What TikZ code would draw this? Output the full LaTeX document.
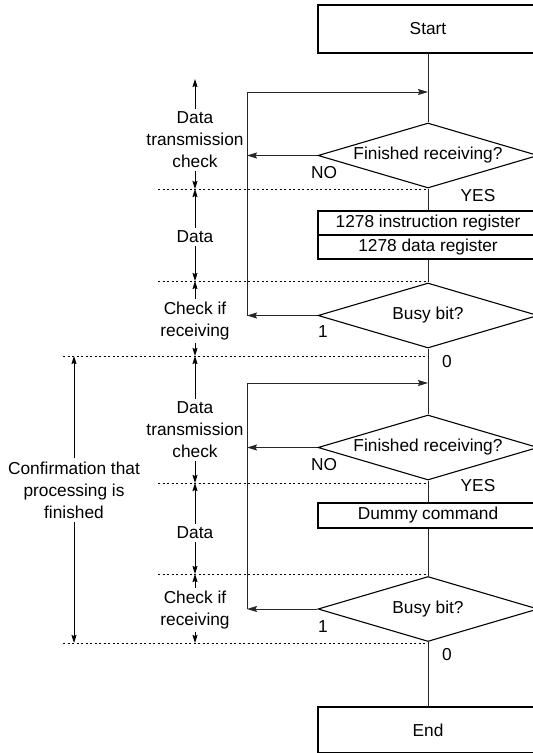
\documentclass[tikz,border=0pt]{standalone}
\usepackage{fontspec}
\setmainfont{Liberation Sans}
\usetikzlibrary{shapes.geometric,arrows.meta}
\tikzset{
  box/.style={draw,line width=1.1pt,minimum width=220pt,inner sep=0pt},
  dia/.style={draw,diamond,line width=1.1pt,minimum width=220pt,minimum height=65pt,shape aspect=3.38,inner sep=0pt},
  flow/.style={line width=0.9pt,draw=black!85},
  flowarr/.style={flow,-{Stealth[length=10pt,width=6pt,inset=1.5pt]}},
  lbl/.style={inner sep=0pt},
  dimtext/.style={align=center,inner sep=3pt},
  dimarr/.style={line width=0.9pt,-{Stealth[length=8pt,width=5pt,inset=1pt]}},
  dotline/.style={line width=0.7pt,dash pattern=on 2pt off 2.5pt},
}
\begin{document}
\begin{tikzpicture}[x=1pt,y=-1pt,font=\fontsize{17.3}{22}\selectfont]
\useasboundingbox (0,0) rectangle (533,753);
\clip (0,0) rectangle (533,753);
% main flow nodes
\node[box,minimum height=48pt] (start) at (428,29) {Start};
\node[dia] (d1) at (428,155.5) {Finished receiving?};
\node[box,minimum height=24pt] (r1) at (428,223) {1278 instruction register};
\node[box,minimum height=24pt] (r2) at (428,247) {1278 data register};
\node[dia] (d2) at (428,315.5) {Busy bit?};
\node[dia] (d3) at (428,447.5) {Finished receiving?};
\node[box,minimum height=25pt] (dummy) at (428,515.5) {Dummy command};
\node[dia] (d4) at (428,609) {Busy bit?};
\node[box,minimum height=46pt] (end) at (428,730) {End};
% labels
\node[lbl] (no1) at (324,173) {NO};
\node[lbl] (yes1) at (478,196) {YES};
\node[lbl] (one1) at (323,332) {1};
\node[lbl] (zero1) at (447,362) {0};
\node[lbl] (no2) at (324,465) {NO};
\node[lbl] (yes2) at (478,486) {YES};
\node[lbl] (one2) at (323,627) {1};
\node[lbl] (zero2) at (447,655) {0};
% loop coordinates
\coordinate (l1top) at (247,92);
\coordinate (l1in) at (428,92);
\coordinate (n1) at (247,155.5);
\coordinate (b1) at (247,315.5);
\coordinate (l2top) at (247,383);
\coordinate (l2in) at (428,383);
\coordinate (n2) at (247,447.5);
\coordinate (b2) at (247,609);
% main connectors
\draw[flow] (start) -- (d1);
\draw[flow] (d1) -- (r1);
\draw[flow] (r2) -- (d2);
\draw[flow] (d2) -- (d3);
\draw[flow] (d3) -- (dummy);
\draw[flow] (dummy) -- (d4);
\draw[flow] (d4) -- (end);
% loops
\draw[flowarr] (d1.west) -- (n1);
\draw[flowarr] (d2.west) -- (b1);
\draw[flowarr] (b1) -- (l1top) -- (l1in);
\draw[flowarr] (d3.west) -- (n2);
\draw[flowarr] (d4.west) -- (b2);
\draw[flowarr] (b2) -- (l2top) -- (l2in);
% dotted lines
\coordinate (p1) at (158,189); \coordinate (q1) at (428,189);
\coordinate (p2) at (158,281); \coordinate (q2) at (428,281);
\coordinate (p3) at (63,356);  \coordinate (q3) at (428,356);
\coordinate (p4) at (158,483); \coordinate (q4) at (428,483);
\coordinate (p5) at (158,574); \coordinate (q5) at (428,574);
\coordinate (p6) at (63,643);  \coordinate (q6) at (428,643);
\draw[dotline] (p1) -- (q1);
\draw[dotline] (p2) -- (q2);
\draw[dotline] (p3) -- (q3);
\draw[dotline] (p4) -- (q4);
\draw[dotline] (p5) -- (q5);
\draw[dotline] (p6) -- (q6);
% dimension labels
\node[dimtext] (t1) at (195,140) {Data\\transmission\\check};
\node[dimtext] (t2) at (195,237) {Data};
\node[dimtext] (t3) at (195,321) {Check if\\receiving};
\node[dimtext] (t4) at (195,430) {Data\\transmission\\check};
\node[dimtext] (t5) at (195,533) {Data};
\node[dimtext] (t6) at (195,610) {Check if\\receiving};
\node[dimtext] (big) at (74,490) {Confirmation that\\processing is\\finished};
\coordinate (t1a) at (195,79);
\coordinate (c1) at (195,189);
\coordinate (c2) at (195,281);
\coordinate (c3) at (195,356);
\coordinate (c4) at (195,483);
\coordinate (c5) at (195,574);
\coordinate (c6) at (195,643);
\coordinate (ba) at (74,356);
\coordinate (bb) at (74,643);
\draw[dimarr] (t1.north) -- (t1a);
\draw[dimarr] (t1.south) -- (c1);
\draw[dimarr] (t2.north) -- (c1);
\draw[dimarr] (t2.south) -- (c2);
\draw[dimarr] (t3.north) -- (c2);
\draw[dimarr] (t3.south) -- (c3);
\draw[dimarr] (t4.north) -- (c3);
\draw[dimarr] (t4.south) -- (c4);
\draw[dimarr] (t5.north) -- (c4);
\draw[dimarr] (t5.south) -- (c5);
\draw[dimarr] (t6.north) -- (c5);
\draw[dimarr] (t6.south) -- (c6);
\draw[dimarr] (big.north) -- (ba);
\draw[dimarr] (big.south) -- (bb);
\end{tikzpicture}
\end{document}
